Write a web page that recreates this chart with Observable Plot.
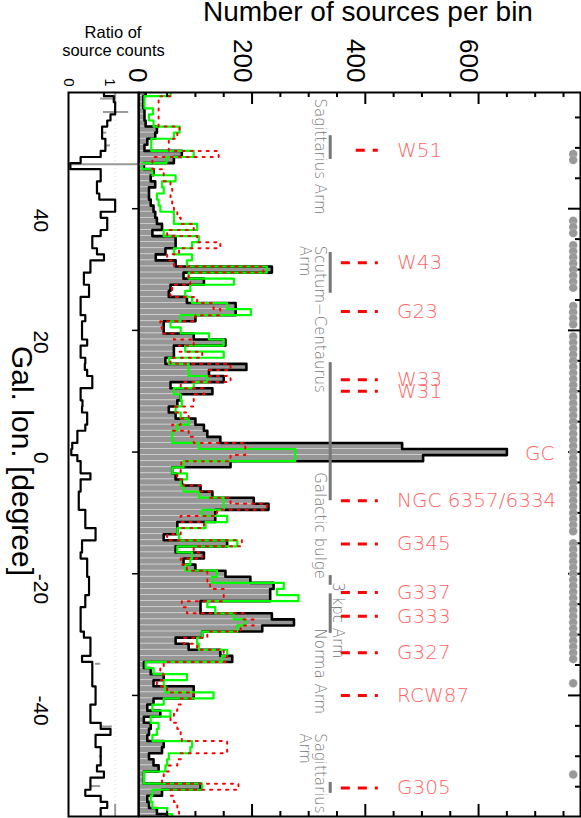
<!DOCTYPE html>
<html><head><meta charset="utf-8">
<script src="https://cdn.jsdelivr.net/npm/d3@7"></script>
<script src="https://cdn.jsdelivr.net/npm/@observablehq/plot@0.6"></script>
<style>
body{margin:0;background:#fff;}
#wrap{position:relative;width:581px;height:818px;overflow:hidden;font-family:"Liberation Sans",Arial,sans-serif;}
#wrap svg{position:absolute;left:0;top:0;}
</style></head><body><div id="wrap"></div>
<script>
// ---------- data ----------
const lon = [59,58,57,56,55,54,53,52,51,50,49,48,47,46,45,44,43,42,41,40,
 39,38,37,36,35,34,33,32,31,30,29,28,27,26,25,24,23,22,21,20,
 19,18,17,16,15,14,13,12,11,10,9,8,7,6,5,4,3,2,1,0,
 -1,-2,-3,-4,-5,-6,-7,-8,-9,-10,-11,-12,-13,-14,-15,-16,-17,-18,-19,-20,
 -21,-22,-23,-24,-25,-26,-27,-28,-29,-30,-31,-32,-33,-34,-35,-36,-37,-38,-39,-40,
 -41,-42,-43,-44,-45,-46,-47,-48,-49,-50,-51,-52,-53,-54,-55,-56,-57,-58,-59,-60];
const countAll = [12,8,8,10,10,12,32,29,15,10,
 76,62,9,26,21,29,18,18,21,26,
 29,32,41,24,65,65,47,30,65,235,
 79,115,56,53,85,171,171,100,44,44,
 97,153,62,62,47,190,124,150,56,130,
 74,68,53,65,100,115,121,144,465,650,
 502,162,59,65,76,109,130,203,229,135,
 135,68,68,44,156,65,115,79,100,153,
 197,238,232,232,109,109,235,274,218,112,
 65,88,144,165,9,21,44,26,97,97,
 26,15,38,9,21,18,15,44,41,18,
 26,35,9,9,109,41,15,18,32,50];
const countGreen = [56,10,10,25,18,26,72,62,22,22,
 97,49,6,24,65,41,44,32,35,38,
 62,62,103,44,106,94,62,94,85,226,
 88,168,91,82,94,156,198,74,56,74,
 124,150,82,150,53,88,88,121,97,62,
 74,76,65,74,88,68,59,59,106,276,
 276,79,59,85,74,79,106,150,150,112,
 156,118,68,71,174,68,94,91,82,138,
 129,256,244,282,121,135,168,188,174,112,
 103,106,156,147,12,26,85,44,47,132,
 44,24,56,21,35,32,24,94,91,53,
 50,47,9,9,112,24,21,24,50,59];
const countRed = [59,35,35,35,35,35,72,68,53,53,
 141,24,24,44,44,56,59,56,59,62,
 68,74,97,50,103,144,71,50,62,220,
 88,91,59,56,103,132,144,100,38,41,
 62,97,71,112,56,162,124,162,74,115,
 97,97,65,88,74,59,88,97,188,188,
 162,75,74,68,79,109,126,162,226,138,
 74,115,74,50,182,97,112,74,85,121,
 121,126,150,150,76,85,185,203,180,121,
 79,103,150,156,44,38,44,32,50,97,
 74,68,62,56,68,74,76,156,156,74,
 68,53,44,41,176,56,62,68,71,68];
const ratio = [0.76,0.97,1.0,1.0,0.9,0.83,0.72,0.72,0.79,0.79,
 0.69,0.26,0.04,0.69,0.69,0.61,0.61,0.66,1.0,1.0,
 0.69,0.83,0.83,0.69,0.51,0.51,0.61,0.76,0.47,0.47,
 0.33,0.33,0.44,0.44,0.26,0.26,0.26,0.36,0.29,0.29,
 0.29,0.40,0.26,0.26,0.36,0.35,0.40,0.51,0.51,0.26,
 0.26,0.30,0.29,0.40,0.40,0.36,0.19,0.19,0.08,0.06,
 0.19,0.26,0.26,0.47,0.26,0.26,0.22,0.22,0.22,0.36,
 0.36,0.36,0.58,0.58,0.29,0.29,0.26,0.40,0.40,0.40,
 0.44,0.44,0.44,0.36,0.36,0.26,0.26,0.26,0.26,0.33,
 0.47,0.47,0.47,0.29,0.51,0.51,0.51,0.51,0.58,0.58,
 0.58,0.47,0.47,0.47,0.69,0.90,0.58,0.58,0.69,0.69,
 0.69,0.61,0.76,0.47,0.47,0.36,0.69,0.83,0.69,0.69];
// ratio error bars
const errLon = [58.1, 55.9, 52.5, 50.4, 47.3, -34.8, -45.1, -50.0, -54.9];
const errLo  = [0.69, 0.75, 0.72, 0.80, 0.00, 0.58, 0.69, 0.66, 0.47];
const errHi  = [0.96, 1.29, 0.82, 0.90, 1.65, 0.69, 0.94, 0.72, 0.69];
const refSegTop = [59.1, -57.9];
const refSegBot = [57.0, -59.9];
// sources
const srcName = ["W51","W43","G23","W33","W31","NGC 6357/6334","G345","G337","G333","G327","RCW87","G305"];
const srcLon  = [49.6, 31.1, 23.1, 11.9, 10.0, -8.0, -15.1, -23.1, -27.0, -33.0, -40.0, -55.2];
const gcName = ["GC"];
const gcLon = [-0.2];
// arms
const armText = ["Sagittarius Arm","Scutum\u2212Centaurus","Arm","Galactic bulge","3 kpc Arm","Norma Arm","Sagittarius","Arm"];
const armTextLon = [58.1, 33.9, 33.9, -3.3, -21.4, -29.0, -46.2, -46.2];
const armTextCol = [0, 0, 1, 0, 2, 0, 0, 1];
const armFrom = [52.0, 32.8, 14.7, -20.3, -23.3, -54.3];
const armTo   = [48.1, 26.1, -8.0, -21.9, -29.8, -56.1];
// coverage dots
const dotLon = [49,48, 38,37,36, 34,33,32,31,30,29,28,27, 24,23,22,21,
 19,18,17,16,15,14,13,12,11,10,9,8,7,6,5,4,3,2,1,0,-1,-2,-3,-4,-5,-6,-7,-8,-9,-10,-11,-12,-13,
 -15,-16,-17,-18,-19,-20,-21,-22,-23,-24,-25,-26,-27,-28,-29,-30,-31,-32,-33,-34, -38, -53];
// ticks
const countMajor = [200, 400, 600];
const countMinor = [50,100,150,250,300,350,450,500,550,650,700,750];
const lonMajor = [40, 20, 0, -20, -40];
const lonMinor = [55,50,45,35,30,25,15,10,5,-5,-10,-15,-25,-30,-35,-45,-50,-55];
const lonLabels = ["40","20","0","-20","-40"];

// ---------- layout constants ----------
const W = 581, H = 818, MT = 92, MB = 2, ML = 138.3, MR = 1;
const FH = H - MT - MB, FW = W - ML - MR;
const countDomain = [0, 780], lonDomain = [-59.9, 59.1];
const ARM_X = 338, ARM_COL_X = [319, 293, 351.5];
const DASH_X1 = 357.7, DASH_X1_SHORT = 384, DASH_X2 = 423, SRC_TX = 456, GC_TX = 682;
const LIGHT = "DejaVu Sans, sans-serif";

const bins = lon.map((l, i) => ({l, all: countAll[i], green: countGreen[i], red: countRed[i], ratio: ratio[i]}));
const steps = key => bins.flatMap(d => [{v: d[key], l: d.l + 0.5}, {v: d[key], l: d.l - 0.5}]);
const srcs = srcName.map((name, i) => ({name, l: srcLon[i]}));
const gcs = gcName.map((name, i) => ({name, l: gcLon[i]}));
const armLabels = armText.map((t, i) => ({t, l: armTextLon[i], col: armTextCol[i]}));
const armLines = armFrom.map((a, i) => ({a, b: armTo[i]}));
const errs = errLon.map((l, i) => ({l, lo: errLo[i], hi: errHi[i]}));
const refSegs = refSegTop.map((a, i) => ({a, b: refSegBot[i]}));

const main = Plot.plot({
  width: W, height: H, marginTop: MT, marginBottom: MB, marginLeft: ML, marginRight: MR,
  x: {domain: countDomain, axis: null},
  y: {domain: lonDomain, axis: null},
  style: {background: "none", overflow: "visible", fontFamily: "Liberation Sans, Arial, sans-serif"},
  marks: [
    Plot.rectX(bins, {x1: () => 0, x2: "all", y1: d => d.l - 0.5, y2: d => d.l + 0.5, fill: "#969696", stroke: "#d4d4d4", strokeWidth: 0.7, clip: true}),
    Plot.line(steps("all"), {x: "v", y: "l", stroke: "black", strokeWidth: 2.6, clip: true}),
    Plot.line(steps("green"), {x: "v", y: "l", stroke: "#00ff00", strokeWidth: 2.2, clip: true}),
    Plot.line(steps("red"), {x: "v", y: "l", stroke: "#ff0000", strokeWidth: 2, strokeDasharray: "2,6", clip: true}),
    Plot.ruleX(armLines, {x: () => ARM_X, y1: "a", y2: "b", stroke: "#777", strokeWidth: 3}),
    Plot.frame({stroke: "black", strokeWidth: 2}),
    Plot.ruleX(countMajor, {x: d => d, insetBottom: FH - 12, strokeWidth: 2}),
    Plot.ruleX(countMinor, {x: d => d, insetBottom: FH - 5, strokeWidth: 2}),
    Plot.ruleX(countMajor, {x: d => d, insetTop: FH - 12, strokeWidth: 2}),
    Plot.ruleX(countMinor, {x: d => d, insetTop: FH - 5, strokeWidth: 2}),
    Plot.ruleY(lonMajor, {y: d => d, insetLeft: FW - 12, strokeWidth: 2}),
    Plot.ruleY(lonMinor, {y: d => d, insetLeft: FW - 5, strokeWidth: 2}),
    Plot.dot(dotLon, {y: d => d, frameAnchor: "right", dx: -7.3, r: 4.3, fill: "#999", stroke: "#e4e4e4", strokeWidth: 0.5, strokeDasharray: "1,1"}),
    Plot.ruleY(srcs, {y: "l", x1: d => d.name === "W51" ? DASH_X1_SHORT : DASH_X1, x2: () => DASH_X2, stroke: "#ff0000", strokeWidth: 3, strokeDasharray: "9,8"}),
    Plot.text(srcs, {y: "l", x: () => SRC_TX, text: "name", textAnchor: "start", fill: "#ff6464", fontSize: 20, fontFamily: LIGHT, fontWeight: 200}),
    Plot.text(gcs, {y: "l", x: () => GC_TX, text: "name", textAnchor: "start", fill: "#ff6464", fontSize: 20, fontFamily: LIGHT, fontWeight: 200}),
    Plot.text(armLabels, {y: "l", x: d => ARM_COL_X[d.col], text: "t", rotate: 90, textAnchor: "start", fill: "#777", fontSize: 15, fontFamily: LIGHT, fontWeight: 200}),
    Plot.text([0], {x: d => d, text: d => String(d), frameAnchor: "top", dy: -10, dx: 9, rotate: 90, textAnchor: "end", fontSize: 26}),
    Plot.text(countMajor, {x: d => d, text: d => String(d), frameAnchor: "top", dy: -10, rotate: 90, textAnchor: "end", fontSize: 26})
  ]
});

const side = Plot.plot({
  width: 150, height: H, marginTop: MT, marginBottom: MB, marginLeft: 68, marginRight: 12,
  x: {domain: [0, 1.5], axis: null},
  y: {domain: lonDomain, axis: null},
  style: {background: "none", overflow: "visible", fontFamily: "Liberation Sans, Arial, sans-serif"},
  marks: [
    Plot.ruleX([1], {stroke: "#d8d8d8", strokeDasharray: "1,3"}),
    Plot.ruleX(refSegs, {x: () => 1, y1: "a", y2: "b", stroke: "#999", strokeWidth: 2}),
    Plot.ruleY(errs, {y: "l", x1: "lo", x2: "hi", stroke: "#999", strokeWidth: 2}),
    Plot.line(steps("ratio"), {x: "v", y: "l", stroke: "black", strokeWidth: 2.2, clip: true}),
    Plot.frame({stroke: "black", strokeWidth: 2}),
    Plot.ruleY(lonMajor, {y: d => d, insetLeft: 70 - 6, strokeWidth: 1.5}),
    Plot.text(lonMajor, {y: d => d, text: (d, i) => lonLabels[i], frameAnchor: "left", dx: -28, rotate: 90, fontSize: 21}),
    Plot.text([0], {x: d => d, text: d => String(d), frameAnchor: "top", dy: -6, dx: 6, rotate: 90, textAnchor: "end", fontSize: 15}),
    Plot.text([1], {x: d => d, text: d => String(d), frameAnchor: "top", dy: -6, rotate: 90, textAnchor: "end", fontSize: 15})
  ]
});

const wrap = document.getElementById("wrap");
wrap.appendChild(main);
wrap.appendChild(side);

// titles
const ns = "http://www.w3.org/2000/svg";
const ov = document.createElementNS(ns, "svg");
ov.setAttribute("width", W); ov.setAttribute("height", H);
ov.style.pointerEvents = "none";
function addText(txt, attrs) {
  const t = document.createElementNS(ns, "text");
  for (const k in attrs) t.setAttribute(k, attrs[k]);
  t.textContent = txt;
  ov.appendChild(t);
}
const FF = "Liberation Sans, Arial, sans-serif";
addText("Number of sources per bin", {x: 203, y: 21, "font-size": 28, "font-family": FF});
addText("Ratio of", {x: 113, y: 37.5, "font-size": 16.5, "font-family": FF, "text-anchor": "middle"});
addText("source counts", {x: 113.5, y: 55.5, "font-size": 16.5, "font-family": FF, "text-anchor": "middle"});
addText("Gal. lon. [degree]", {x: 0, y: 0, "font-size": 30, "font-family": FF, "text-anchor": "middle", transform: "translate(12,461) rotate(90)"});
wrap.appendChild(ov);
</script></body></html>
